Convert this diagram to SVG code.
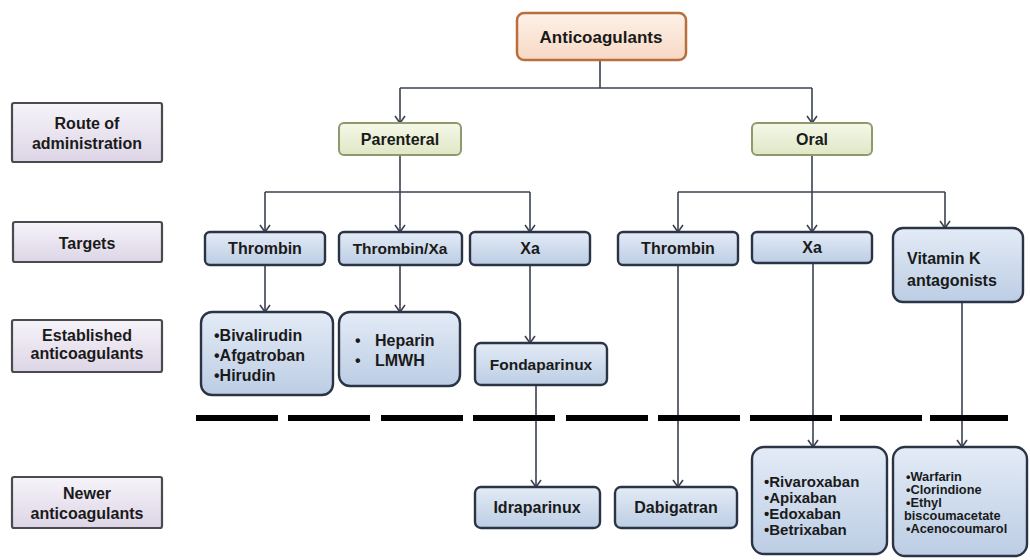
<svg xmlns="http://www.w3.org/2000/svg" width="1030" height="560" viewBox="0 0 1030 560">
<defs>
<linearGradient id="gPeach" x1="0" y1="0" x2="0" y2="1"><stop offset="0" stop-color="#fdf1e8"/><stop offset="1" stop-color="#f7d9c4"/></linearGradient>
<linearGradient id="gGreen" x1="0" y1="0" x2="0" y2="1"><stop offset="0" stop-color="#f5f8e8"/><stop offset="1" stop-color="#dfe7c6"/></linearGradient>
<linearGradient id="gLav" x1="0" y1="0" x2="0" y2="1"><stop offset="0" stop-color="#f6f3f9"/><stop offset="1" stop-color="#ddd5e6"/></linearGradient>
<linearGradient id="gBlue" x1="0" y1="0" x2="0" y2="1"><stop offset="0" stop-color="#e3ebf6"/><stop offset="1" stop-color="#bccde4"/></linearGradient>
<marker id="arr" viewBox="0 0 12 12" refX="11" refY="6" markerWidth="12" markerHeight="12" markerUnits="userSpaceOnUse" orient="auto">
<polyline points="4,1 11,6 4,11" fill="none" stroke="#3a4250" stroke-width="1.6"/>
</marker>
</defs>
<style>
text{font-family:"Liberation Sans",Arial,sans-serif;font-weight:bold;fill:#1a1a1a;}
.c{text-anchor:middle;}
.root{fill:url(#gPeach);stroke:#b86f3c;stroke-width:2.5;}
.route{fill:url(#gGreen);stroke:#8c9a6c;stroke-width:2;}
.lab{fill:url(#gLav);stroke:#4a4a4f;stroke-width:2.2;}
.blue{fill:url(#gBlue);stroke:#2b3444;stroke-width:2.4;}
.ln{fill:none;stroke:#3a4250;stroke-width:1.6;}
.dash{stroke:#000;stroke-width:6;}
</style>
<rect width="1030" height="560" fill="#ffffff"/>

<g id="connectors">
<polyline class="ln" points="600,60 600,88"/>
<polyline class="ln" points="400,88 812,88"/>
<line class="ln" x1="400" y1="88" x2="400" y2="123" marker-end="url(#arr)"/>
<line class="ln" x1="812" y1="88" x2="812" y2="123" marker-end="url(#arr)"/>
<polyline class="ln" points="400,155 400,192"/>
<polyline class="ln" points="265,192 530,192"/>
<line class="ln" x1="265" y1="192" x2="265" y2="232" marker-end="url(#arr)"/>
<line class="ln" x1="400" y1="192" x2="400" y2="232" marker-end="url(#arr)"/>
<line class="ln" x1="530" y1="192" x2="530" y2="232" marker-end="url(#arr)"/>
<polyline class="ln" points="812,155 812,192"/>
<polyline class="ln" points="678,192 945,192"/>
<line class="ln" x1="678" y1="192" x2="678" y2="232" marker-end="url(#arr)"/>
<line class="ln" x1="812" y1="192" x2="812" y2="232" marker-end="url(#arr)"/>
<line class="ln" x1="945" y1="192" x2="945" y2="228" marker-end="url(#arr)"/>
<line class="ln" x1="265" y1="265" x2="265" y2="312" marker-end="url(#arr)"/>
<line class="ln" x1="400" y1="265" x2="400" y2="312" marker-end="url(#arr)"/>
<line class="ln" x1="530" y1="265" x2="530" y2="343" marker-end="url(#arr)"/>
<line class="ln" x1="536" y1="385" x2="536" y2="487" marker-end="url(#arr)"/>
<line class="ln" x1="678" y1="265" x2="678" y2="487" marker-end="url(#arr)"/>
<line class="ln" x1="813" y1="263" x2="813" y2="447" marker-end="url(#arr)"/>
<line class="ln" x1="962" y1="302" x2="962" y2="447" marker-end="url(#arr)"/>
</g>

<g id="divider">
<line class="dash" x1="196" y1="418" x2="278" y2="418"/>
<line class="dash" x1="288" y1="418" x2="370" y2="418"/>
<line class="dash" x1="381" y1="418" x2="463" y2="418"/>
<line class="dash" x1="473" y1="418" x2="555" y2="418"/>
<line class="dash" x1="566" y1="418" x2="648" y2="418"/>
<line class="dash" x1="658" y1="418" x2="740" y2="418"/>
<line class="dash" x1="750" y1="418" x2="832" y2="418"/>
<line class="dash" x1="840" y1="418" x2="922" y2="418"/>
<line class="dash" x1="930" y1="418" x2="1008" y2="418"/>
</g>

<g id="n-root"><rect class="root" x="517" y="13" width="169" height="47" rx="7"/><text class="c" x="601" y="43" font-size="17">Anticoagulants</text></g>

<g id="l-route"><rect class="lab" x="12" y="103" width="150" height="59" rx="2"/><text class="c" x="87" y="129" font-size="16">Route of</text><text class="c" x="87" y="149" font-size="16">administration</text></g>
<g id="l-targets"><rect class="lab" x="13" y="222" width="149" height="40" rx="2"/><text class="c" x="87" y="249" font-size="16">Targets</text></g>
<g id="l-established"><rect class="lab" x="12" y="320" width="150" height="52" rx="2"/><text class="c" x="87" y="341" font-size="16">Established</text><text class="c" x="87" y="359" font-size="16">anticoagulants</text></g>
<g id="l-newer"><rect class="lab" x="12" y="477" width="150" height="51" rx="2"/><text class="c" x="87" y="499" font-size="16">Newer</text><text class="c" x="87" y="519" font-size="16">anticoagulants</text></g>

<g id="n-parenteral"><rect class="route" x="339" y="123" width="122" height="32" rx="5"/><text class="c" x="400" y="145" font-size="16">Parenteral</text></g>
<g id="n-oral"><rect class="route" x="752" y="123" width="120" height="32" rx="5"/><text class="c" x="812" y="145" font-size="16">Oral</text></g>

<g id="n-thrombin-p"><rect class="blue" x="205" y="232" width="120" height="33" rx="5"/><text class="c" x="265" y="254" font-size="16">Thrombin</text></g>
<g id="n-thrombinxa"><rect class="blue" x="339" y="232" width="123" height="33" rx="5"/><text class="c" x="400" y="254" font-size="15.5">Thrombin/Xa</text></g>
<g id="n-xa-p"><rect class="blue" x="470" y="232" width="120" height="33" rx="5"/><text class="c" x="530" y="254" font-size="16">Xa</text></g>
<g id="n-thrombin-o"><rect class="blue" x="618" y="232" width="120" height="33" rx="5"/><text class="c" x="678" y="254" font-size="16">Thrombin</text></g>
<g id="n-xa-o"><rect class="blue" x="752" y="232" width="120" height="31" rx="5"/><text class="c" x="812" y="253" font-size="16">Xa</text></g>
<g id="n-vitk"><rect class="blue" x="893" y="228" width="130" height="74" rx="10"/><text x="907" y="264" font-size="16">Vitamin K</text><text x="907" y="286" font-size="16">antagonists</text></g>

<g id="n-bivalirudin"><rect class="blue" x="201" y="312" width="132" height="83" rx="11"/><text x="214" y="341" font-size="16">•Bivalirudin</text><text x="214" y="361" font-size="16">•Afgatroban</text><text x="214" y="381" font-size="16">•Hirudin</text></g>
<g id="n-heparin"><rect class="blue" x="339" y="312" width="121" height="74" rx="11"/><text x="355" y="346" font-size="16">•</text><text x="375" y="346" font-size="16">Heparin</text><text x="355" y="366" font-size="16">•</text><text x="375" y="366" font-size="16">LMWH</text></g>
<g id="n-fondaparinux"><rect class="blue" x="475" y="343" width="132" height="42" rx="6"/><text class="c" x="541" y="370" font-size="15.5">Fondaparinux</text></g>

<g id="n-idraparinux"><rect class="blue" x="475" y="487" width="125" height="41" rx="6"/><text class="c" x="537" y="513" font-size="16">Idraparinux</text></g>
<g id="n-dabigatran"><rect class="blue" x="615" y="487" width="122" height="41" rx="6"/><text class="c" x="676" y="513" font-size="16">Dabigatran</text></g>
<g id="n-rivaroxaban"><rect class="blue" x="752" y="447" width="135" height="107" rx="12"/><text x="764" y="487" font-size="15">•Rivaroxaban</text><text x="764" y="503" font-size="15">•Apixaban</text><text x="764" y="519" font-size="15">•Edoxaban</text><text x="764" y="535" font-size="15">•Betrixaban</text></g>
<g id="n-warfarin"><rect class="blue" x="893" y="447" width="134" height="109" rx="12"/><text x="906" y="481" font-size="12.8">•Warfarin</text><text x="906" y="494" font-size="12.8">•Clorindione</text><text x="906" y="507" font-size="12.8">•Ethyl</text><text x="904" y="520" font-size="12.8">biscoumacetate</text><text x="906" y="533" font-size="12.8">•Acenocoumarol</text></g>
</svg>
